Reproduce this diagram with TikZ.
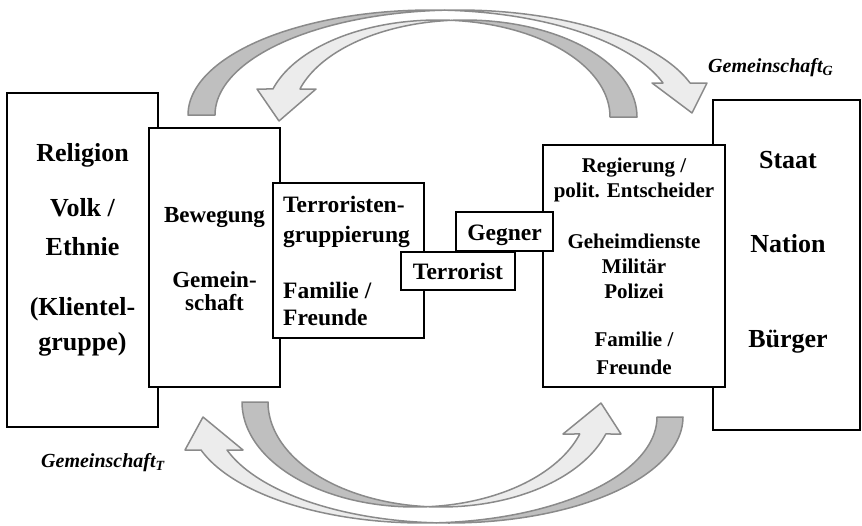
\documentclass[tikz,border=0pt]{standalone}
\usepackage{fontspec}
\setmainfont{Liberation Serif}
\begin{document}
\begin{tikzpicture}[x=1pt,y=-1pt,
  box/.style={draw=black,line width=2pt,fill=white,inner sep=0pt},
  txt/.style={inner sep=0pt,anchor=base,font=\bfseries},
  lbl/.style={inner sep=0pt,anchor=base west,font=\fontsize{20}{22}\selectfont\bfseries\itshape},
  back/.style={fill={rgb,255:red,191;green,191;blue,191},draw={rgb,255:red,138;green,138;blue,138},line width=1.5pt,line join=round},
  front/.style={fill={rgb,255:red,236;green,236;blue,236},draw={rgb,255:red,138;green,138;blue,138},line width=1.5pt,line join=round},
  big/.style={font=\fontsize{26}{30}\selectfont\bfseries},
  mid/.style={font=\fontsize{23.5}{27}\selectfont\bfseries},
  sml/.style={font=\fontsize{21}{24}\selectfont\bfseries}]
\useasboundingbox (0,0) rectangle (862,525);

% ---- upper ribbon arrow, tail on the left, head on the right
\draw[back] plot[domain=180:273.2,samples=60,variable=\t] ({431.3+243.3*cos(\t)},{115+105*sin(\t)})
  -- plot[domain=266.8:180,samples=60,variable=\t] ({458.3+243.3*cos(\t)},{115+105*sin(\t)}) -- cycle;
\draw[front] plot[domain=266.8:342.26,samples=60,variable=\t] ({458.3+243.3*cos(\t)},{115+105*sin(\t)})
  -- (707,83) -- (692,113) -- (652,83)
  -- plot[domain=342.26:273.2,samples=60,variable=\t] ({431.3+243.3*cos(\t)},{115+105*sin(\t)}) -- cycle;
% ---- upper ribbon arrow, tail on the right, head on the left
\draw[back] plot[domain=360:265.5,samples=60,variable=\t] ({464.8+172.2*cos(\t)},{117+97*sin(\t)})
  -- plot[domain=274.5:360,samples=60,variable=\t] ({437.8+172.2*cos(\t)},{117+97*sin(\t)}) -- cycle;
\draw[front] plot[domain=274.5:196.78,samples=60,variable=\t] ({437.8+172.2*cos(\t)},{117+97*sin(\t)})
  -- (257,89) -- (279,121) -- (316,89)
  -- plot[domain=196.78:265.5,samples=60,variable=\t] ({464.8+172.2*cos(\t)},{117+97*sin(\t)}) -- cycle;
% ---- lower ribbon arrow, tail on the right, head on the left
\draw[back] plot[domain=0:93.2,samples=60,variable=\t] ({449.2+233.8*cos(\t)},{417+106*sin(\t)})
  -- plot[domain=86.8:0,samples=60,variable=\t] ({423.2+233.8*cos(\t)},{417+106*sin(\t)}) -- cycle;
\draw[front] plot[domain=86.8:161.86,samples=60,variable=\t] ({423.2+233.8*cos(\t)},{417+106*sin(\t)})
  -- (185,450) -- (203,417) -- (243,450)
  -- plot[domain=161.86:93.2,samples=60,variable=\t] ({449.2+233.8*cos(\t)},{417+106*sin(\t)}) -- cycle;
% ---- lower ribbon arrow, tail on the left, head on the right
\draw[back] plot[domain=180:85.7,samples=60,variable=\t] ({415+173*cos(\t)},{402+105*sin(\t)})
  -- plot[domain=94.3:180,samples=60,variable=\t] ({441+173*cos(\t)},{402+105*sin(\t)}) -- cycle;
\draw[front] plot[domain=94.3:17.74,samples=60,variable=\t] ({441+173*cos(\t)},{402+105*sin(\t)})
  -- (621,434) -- (601,403) -- (563,434)
  -- plot[domain=17.74:85.7,samples=60,variable=\t] ({415+173*cos(\t)},{402+105*sin(\t)}) -- cycle;

% ---- boxes
\node[box,minimum width=151pt,minimum height=334pt] (umfeld) at (82.5,260) {};
\node[box,minimum width=131pt,minimum height=259pt] (bewegung) at (214.5,257.5) {};
\node[box,minimum width=151pt,minimum height=155pt] (gruppe) at (348.5,260.5) {};
\node[box,minimum width=147pt,minimum height=330pt] (staat) at (786.5,265) {};
\node[box,minimum width=182pt,minimum height=242pt] (apparat) at (634,266) {};
\node[box,minimum width=97pt,minimum height=39pt] (gegner) at (504.5,231.5) {};
\node[box,minimum width=114pt,minimum height=38pt] (terrorist) at (458,271) {};

% ---- texts, left column
\node[txt,big] (t1) at (82.5,161) {Religion};
\node[txt,big] (t2) at (82.5,216) {Volk /};
\node[txt,big] (t3) at (82.5,255) {Ethnie};
\node[txt,big] (t4) at (82.5,315) {(Klientel-};
\node[txt,big] (t5) at (82.5,350) {gruppe)};
% movement
\node[txt,font=\fontsize{23}{26}\selectfont\bfseries] (b1) at (214.5,222) {Bewegung};
\node[txt,font=\fontsize{23}{26}\selectfont\bfseries] (b2) at (214.5,287) {Gemein-};
\node[txt,font=\fontsize{23}{26}\selectfont\bfseries] (b3) at (214.5,310) {schaft};
% group
\node[txt,mid,anchor=base west] (g1) at (283,212) {Terroristen-};
\node[txt,mid,anchor=base west] (g2) at (283,242) {gruppierung};
\node[txt,mid,anchor=base west] (g3) at (283,298) {Familie /};
\node[txt,mid,anchor=base west] (g4) at (283,325) {Freunde};
\node[txt,mid] (tt) at (458,279) {Terrorist};
\node[txt,mid] (gt) at (504.5,240) {Gegner};
% state apparatus
\node[txt,sml] (a1) at (634,172) {Regierung /};
\node[txt,sml] (a2) at (634,197) {polit. Entscheider};
\node[txt,sml] (a3) at (634,248) {Geheimdienste};
\node[txt,sml] (a4) at (634,273) {Militär};
\node[txt,sml] (a5) at (634,298) {Polizei};
\node[txt,sml] (a6) at (634,346) {Familie /};
\node[txt,sml] (a7) at (634,374) {Freunde};
% state
\node[txt,big] (s1) at (788,168) {Staat};
\node[txt,big] (s2) at (788,252) {Nation};
\node[txt,big] (s3) at (788,347) {Bürger};

% ---- labels
\node[lbl] (lg) at (708,72) {Gemeinschaft\textsubscript{G}};
\node[lbl] (lt) at (41,467) {Gemeinschaft\textsubscript{T}};
\end{tikzpicture}
\end{document}
